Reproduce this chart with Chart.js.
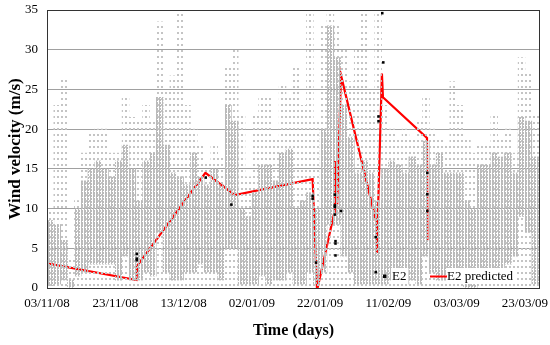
<!DOCTYPE html>
<html>
<head>
<meta charset="utf-8">
<script src="https://cdn.jsdelivr.net/npm/chart.js@4/dist/chart.umd.min.js"></script>
<style>
  html, body { margin: 0; padding: 0; background: #ffffff; }
  #wrap { width: 550px; height: 345px; }
</style>
</head>
<body>
<div id="wrap"><canvas id="c" width="550" height="345"></canvas></div>
<script>
// ---------- DATA (days since 03/11/08, wind velocity m/s) ----------
// Measured wind cloud, read as 2-day buckets: dense band (low..high) and sparse top
const cloudDays = [1,3,5,7,9,11,13,15,17,19,21,23,25,27,29,31,33,35,37,39,41,43,45,47,49,51,53,55,57,59,61,63,65,67,69,71,73,75,77,79,81,83,85,87,89,91,93,95,97,99,101,103,105,107,109,111,113,115,117,119,121,123,125,127,129,131,133,135,137,139,141,143];
const cloudLow  = [0.3,0.5,1,0,1.5,2,3,3,3,3,1,4,1,1,2,1.5,7,2,1,1,2,2,3,2,2,1,5,5,0.5,0.5,0.5,1.5,0.5,1,1,2,0.5,0.5,2,0.5,2,8,8,4,2,0.5,0.5,0.5,0.5,0.5,1,1,0.5,1,0.5,4,2,1,1,2,2,0,0,1,2,2,2,3,4,9,7,0.5];
const cloudHigh = [8.5,8,6,1,10,13.5,15,16,15,14,16,18,15,11,16,17,24,18,14.5,14,13,17,14,13,15,13,23,21,10,9,12,15.5,15.5,13.5,17,17.5,10,11,12,10,20,33,29,23,19,14.5,16,14.5,11,15,16,15.5,14.5,16.5,15.5,18.5,15.5,17,14.5,14.5,14.5,11,10,15.5,15.5,17,16.5,17,14.5,21.5,21,16.5];
const cloudTop  = [10,23,26.5,4,11,17,19.5,20,20,17,17,24,21.5,21,23,21,33.5,25,26.7,34.7,23,20,18,16,18,16.5,28,30,22,14,22,24,24,19,25.5,24,28,23,34.5,21,33,35,33,30,26,30,34.5,25,35,23,20,19,20,19,21,24,20,19,18,26,23,19,17,18,18,22,19,20,17,29,27,22];

// E2 measured points
const e2Days   = [26.3,26.3,26.3,46.5,54.0,77.8,77.8,78.8,84.3,84.3,84.3,84.3,86.1,84.5,84.5,84.5,96.3,96.3,97.1,97.1,98.2,98.5,111.4,111.4,111.4];
const e2Values = [4.3,3.7,3.5,13.9,10.5,11.6,11.25,3.2,11.75,10.4,10.2,9.25,9.7,5.9,5.6,4.1,6.4,2.0,21.6,21.0,34.6,28.4,14.5,11.8,9.7];

// E2 predicted line
const predDays   = [0,26.2,26.4,46.4,55.0,77.8,79.1,84.2,84.3,84.5,84.7,85.0,86.1,96.5,96.6,98.1,98.4,111.3,111.4];
const predValues = [3.1,1.0,2.8,14.5,11.7,13.7,-0.3,9.6,16.0,10.2,15.2,10.5,26.8,8.2,4.4,27.0,24.0,18.9,6.0];

const xMin = 0, xMax = 144.4, xStep = 20;
const xTickValues = [0,20,40,60,80,100,120,140];
const yMin = 0, yMax = 35, yStep = 5;
const startDateUTC = Date.UTC(2008, 10, 3);
const seriesNames = ['E2', 'E2 predicted'];
const xTitle = 'Time (days)';
const yTitle = 'Wind velocity (m/s)';

// ---------- helpers ----------
function makePattern(w, h, dots, color) {
  const c = document.createElement('canvas');
  c.width = w; c.height = h;
  const g = c.getContext('2d');
  g.fillStyle = color;
  dots.forEach(d => g.fillRect(d[0], d[1], d[2], d[3]));
  return document.getElementById('c').getContext('2d').createPattern(c, 'repeat');
}
const densePattern  = makePattern(3, 3, [[0,0,2,2],[0,2,1,1]], '#bababa');
const sparsePattern = makePattern(4, 6, [[1,2,2,2]], '#c4c4c4');

function fmtDate(v) {
  const d = new Date(startDateUTC + Math.round(v) * 86400000);
  const p = n => String(n).padStart(2, '0');
  return p(d.getUTCDate()) + '/' + p(d.getUTCMonth() + 1) + '/' + p(d.getUTCFullYear() % 100);
}

const serif = "'Liberation Serif', 'Times New Roman', serif";

const sparseData = cloudDays.map((d, i) => ({ x: d, y: [0, cloudTop[i]] }));
const denseData  = cloudDays.map((d, i) => ({ x: d, y: [cloudLow[i], cloudHigh[i]] }));
const e2Data     = e2Days.map((d, i) => ({ x: d, y: e2Values[i] }));
const predData   = predDays.map((d, i) => ({ x: d, y: predValues[i] }));

const framePlugin = {
  id: 'frameLegend',
  afterDatasetsDraw(chart) {
    const { ctx, chartArea: a } = chart;
    ctx.save();
    ctx.strokeStyle = '#333333';
    ctx.lineWidth = 1;
    ctx.strokeRect(Math.round(a.left) + 0.5, Math.round(a.top) + 0.5,
                   Math.round(a.right - a.left) - 1, Math.round(a.bottom - a.top));
    // x tick labels placed through the x scale
    const xs = chart.scales.x;
    ctx.font = '13px ' + serif;
    ctx.fillStyle = '#000000';
    ctx.textAlign = 'center';
    ctx.textBaseline = 'middle';
    xTickValues.forEach(v => ctx.fillText(fmtDate(v), xs.getPixelForValue(v), a.bottom + 16));
    // legend (inside plot, bottom right)
    ctx.textAlign = 'left';
    const ly = 276;
    const w1 = ctx.measureText(seriesNames[0]).width;
    const w2 = ctx.measureText(seriesNames[1]).width;
    ctx.fillStyle = '#ffffff';
    ctx.fillRect(391, ly - 8, w1 + 3, 16);
    ctx.fillRect(446, ly - 8, w2 + 3, 16);
    ctx.fillStyle = '#000000';
    ctx.fillRect(383, ly - 1.5, 3.5, 3.5);
    ctx.fillText(seriesNames[0], 392, ly + 1);
    ctx.strokeStyle = '#ff0000';
    ctx.lineWidth = 2;
    ctx.beginPath(); ctx.moveTo(430, ly + 0.5); ctx.lineTo(447, ly + 0.5); ctx.stroke();
    ctx.fillStyle = '#000000';
    ctx.fillText(seriesNames[1], 447, ly + 1);
    ctx.restore();
  }
};

new Chart(document.getElementById('c'), {
  type: 'bar',
  data: {
    datasets: [
      { type: 'scatter', label: seriesNames[0], data: e2Data, order: 0,
        pointStyle: 'rect', pointRadius: 1.8, pointBackgroundColor: '#000000',
        pointBorderWidth: 0, showLine: false },
      { type: 'bar', label: 'cloud dense', data: denseData, order: 1, grouped: false,
        backgroundColor: densePattern, borderWidth: 0,
        barPercentage: 1, categoryPercentage: 1 },
      { type: 'bar', label: 'cloud sparse', data: sparseData, order: 2, grouped: false,
        backgroundColor: sparsePattern, borderWidth: 0,
        barPercentage: 1, categoryPercentage: 1 },
      { type: 'line', label: seriesNames[1], data: predData, order: 3,
        borderColor: '#ff0000', borderWidth: 2.2, pointRadius: 0, tension: 0, fill: false }
    ]
  },
  options: {
    responsive: false,
    animation: false,
    events: [],
    layout: { padding: { left: 0, right: 10, top: 10, bottom: 0 } },
    plugins: { legend: { display: false }, tooltip: { enabled: false } },
    scales: {
      x: {
        type: 'linear', min: xMin, max: xMax, offset: false,
        grid: { display: false, drawTicks: false },
        border: { display: false },
        ticks: { display: false, stepSize: xStep },
        title: { display: true, text: xTitle, color: '#000000',
                 font: { family: serif, size: 16, weight: 'bold' },
                 padding: { top: 0, bottom: 5 } },
        afterFit: s => { s.height = 57; s.paddingLeft = 0; s.paddingRight = 0; }
      },
      y: {
        type: 'linear', min: yMin, max: yMax,
        grid: { color: c => (c.tick.value > yMin && c.tick.value < yMax) ? '#a0a0a0' : 'rgba(0,0,0,0)',
                drawTicks: false, lineWidth: 1 },
        border: { display: false },
        ticks: { stepSize: yStep, padding: 9, color: '#000000', font: { family: serif, size: 13 } },
        title: { display: true, text: yTitle, color: '#000000',
                 font: { family: serif, size: 17, weight: 'bold' },
                 padding: { top: 5, bottom: 0 } },
        afterFit: s => { s.width = 47; s.paddingTop = 0; s.paddingBottom = 0; }
      }
    }
  },
  plugins: [framePlugin]
});
</script>
</body>
</html>
